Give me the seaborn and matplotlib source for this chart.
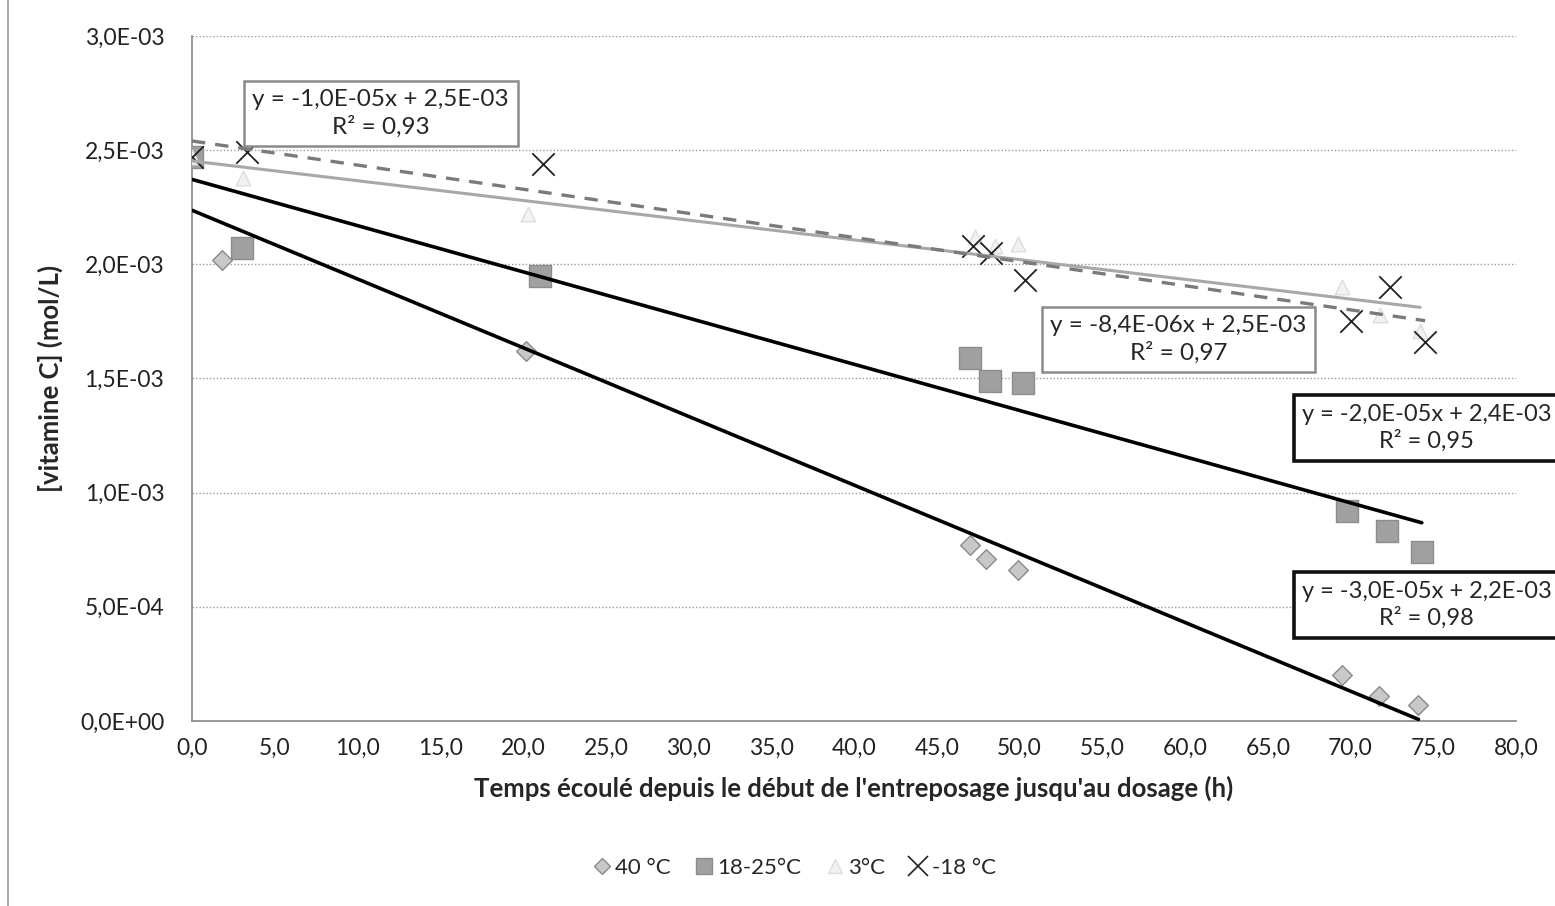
import numpy as np
import pandas as pd
import seaborn as sns
import matplotlib.pyplot as plt
from matplotlib.lines import Line2D
from matplotlib.ticker import FuncFormatter

# temps (h) et [vitamine C] (mol/L) pour chaque température
t_40 = [0.0, 1.8, 20.2, 47.0, 48.0, 49.9, 69.5, 71.7, 74.1]
c_40 = [2.47e-3, 2.02e-3, 1.62e-3, 0.77e-3, 0.71e-3, 0.66e-3, 0.20e-3, 0.11e-3, 0.07e-3]

t_amb = [0.0, 3.0, 21.0, 47.0, 48.2, 50.2, 69.8, 72.2, 74.3]
c_amb = [2.47e-3, 2.07e-3, 1.95e-3, 1.59e-3, 1.49e-3, 1.48e-3, 0.92e-3, 0.83e-3, 0.74e-3]

t_3 = [0.0, 3.1, 20.3, 47.3, 48.5, 49.9, 69.5, 71.8, 74.2]
c_3 = [2.47e-3, 2.38e-3, 2.22e-3, 2.12e-3, 2.08e-3, 2.09e-3, 1.90e-3, 1.78e-3, 1.71e-3]

t_m18 = [0.0, 3.3, 21.2, 47.2, 48.3, 50.3, 70.0, 72.4, 74.5]
c_m18 = [2.47e-3, 2.49e-3, 2.44e-3, 2.08e-3, 2.05e-3, 1.93e-3, 1.75e-3, 1.90e-3, 1.66e-3]

series = ["40 °C", "18-25°C", "3°C", "-18 °C"]
equations = ["y = -3,0E-05x + 2,2E-03\nR² = 0,98",
             "y = -2,0E-05x + 2,4E-03\nR² = 0,95",
             "y = -8,4E-06x + 2,5E-03\nR² = 0,97",
             "y = -1,0E-05x + 2,5E-03\nR² = 0,93"]

x_ticks = np.arange(0, 81, 5)
y_ticks = np.arange(0, 3.01e-3, 0.5e-3)

df = pd.concat([
    pd.DataFrame({"t": t_40, "c": c_40, "serie": series[0]}),
    pd.DataFrame({"t": t_amb, "c": c_amb, "serie": series[1]}),
    pd.DataFrame({"t": t_3, "c": c_3, "serie": series[2]}),
    pd.DataFrame({"t": t_m18, "c": c_m18, "serie": series[3]}),
])

sns.set_style("white")
plt.rcParams["font.family"] = ["Lato", "DejaVu Sans"]

fig = plt.figure(figsize=(15.55, 9.06), dpi=100)
ax = fig.add_axes([0.1235, 0.2042, 0.8515, 0.7561])

styles = {
    "40 °C": dict(marker="D", color="#c8c8c8", edge="#8a8a8a", size=100, line="black", ls="-", lw=2.6),
    "18-25°C": dict(marker="s", color="#a0a0a0", edge="#8c8c8c", size=230, line="black", ls="-", lw=2.6),
    "3°C": dict(marker="^", color="#f2f2f2", edge="#dddddd", size=110, line="#a8a8a8", ls="-", lw=2.2),
    "-18 °C": dict(marker="x", color="#222222", edge="#222222", size=260, line="#7a7a7a", ls=(0, (4, 3)), lw=2.4),
}

for s in series:
    st = styles[s]
    d = df[df["serie"] == s]
    if st["marker"] == "x":
        sns.scatterplot(data=d, x="t", y="c", marker="x", s=st["size"], color=st["color"],
                        linewidth=1.3, ax=ax, zorder=3)
    else:
        sns.scatterplot(data=d, x="t", y="c", marker=st["marker"], s=st["size"], color=st["color"],
                        edgecolor=st["edge"], linewidth=1, ax=ax, zorder=3)
    sns.regplot(data=d, x="t", y="c", scatter=False, ci=None, ax=ax,
                line_kws=dict(color=st["line"], ls=st["ls"], lw=st["lw"], zorder=4))

ax.set_xlim(0, 80)
ax.set_ylim(0, 3.0e-3)
ax.set_xticks(x_ticks)
ax.set_yticks(y_ticks)
ax.xaxis.set_major_formatter(FuncFormatter(lambda v, p: f"{v:.1f}".replace(".", ",")))

def sci(v, p):
    if v == 0:
        return "0,0E+00"
    e = int(np.floor(np.log10(abs(v)) + 1e-9))
    m = v / 10 ** e
    return f"{m:.1f}".replace(".", ",") + f"E-{abs(e):02d}"

ax.yaxis.set_major_formatter(FuncFormatter(sci))
ax.tick_params(axis="both", labelsize=16.5, colors="#222222", length=6, direction="out")
ax.tick_params(axis="x", color="#888888", pad=6)
ax.tick_params(axis="y", color="#888888", pad=14)
ax.grid(axis="y", color="#9a9a9a", ls=(0, (1, 1.5)), lw=1)
for sp in ["top", "right"]:
    ax.spines[sp].set_visible(False)
for sp in ["left", "bottom"]:
    ax.spines[sp].set_color("#888888")
    ax.spines[sp].set_linewidth(1.2)

ax.set_xlabel("Temps écoulé depuis le début de l'entreposage jusqu'au dosage (h)",
              fontsize=18.5, fontweight="bold", labelpad=12)
ax.set_ylabel("[vitamine C] (mol/L)", fontsize=18.5, fontweight="bold", labelpad=12)

# étiquettes des équations
box_pos = [(74.6, 0.508e-3), (74.6, 1.283e-3), (59.6, 1.67e-3), (11.4, 2.66e-3)]
box_edge = ["#111111", "#111111", "#8a8a8a", "#8a8a8a"]
box_lw = [2.6, 2.6, 1.8, 1.8]
box_fs = [17, 17, 17.5, 17.5]
for eq, (bx, by), ec, blw, fs in zip(equations, box_pos, box_edge, box_lw, box_fs):
    ax.text(bx, by, eq, ha="center", va="center", fontsize=fs, linespacing=1.3,
            zorder=6, clip_on=False,
            bbox=dict(boxstyle="square,pad=0.35", fc="white", ec=ec, lw=blw))

handles = [
    Line2D([], [], ls="", marker="D", ms=8, mfc="#c8c8c8", mec="#8a8a8a"),
    Line2D([], [], ls="", marker="s", ms=12, mfc="#a0a0a0", mec="#8c8c8c"),
    Line2D([], [], ls="", marker="^", ms=10, mfc="#f2f2f2", mec="#dddddd"),
    Line2D([], [], ls="", marker="x", ms=14, mec="#222222", mew=1.2),
]
fig.legend(handles, series, loc="center", bbox_to_anchor=(0.51, 0.042), ncol=4,
           frameon=False, fontsize=16, handletextpad=0.1, columnspacing=1.0,
           handlelength=1.0)

fig.add_artist(Line2D([0.005, 0.005], [0.0, 1.0], transform=fig.transFigure,
                      color="#999999", lw=1.2))

fig.savefig("out.png", dpi=100)
